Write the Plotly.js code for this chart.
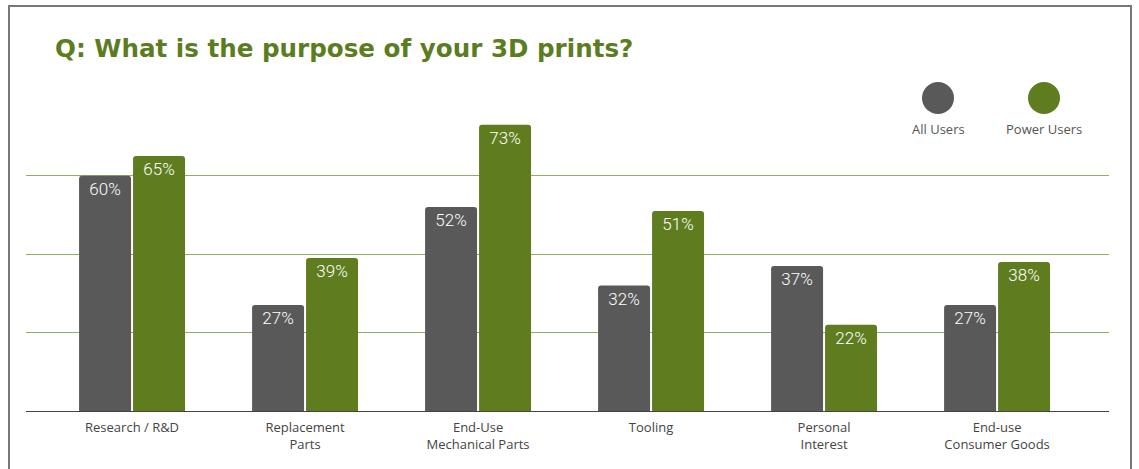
<!DOCTYPE html>
<html>
<head>
<meta charset="utf-8">
<script src="https://cdn.plot.ly/plotly-3.0.1.min.js"></script>
<style>html,body{margin:0;padding:0;background:#fff;}#chart{width:1139px;height:469px;}</style>
</head>
<body>
<div id="chart"></div>
<script>
const categories = ["Research / R&D", "Replacement<br>Parts", "End-Use<br>Mechanical Parts", "Tooling", "Personal<br>Interest", "End-use<br>Consumer Goods"];
const allUsers = [60, 27, 52, 32, 37, 27];
const powerUsers = [65, 39, 73, 51, 22, 38];
const seriesNames = ["All Users", "Power Users"];
const colors = ["#595959", "#5f7d1f"];
const yTicks = [0, 20, 40, 60];

const pct = v => v.map(x => x + "%");
const idx = categories.map((c, i) => i);

const traces = [allUsers, powerUsers].map((vals, k) => ({
  type: "bar",
  x: idx,
  y: vals,
  name: seriesNames[k],
  marker: {color: colors[k], line: {width: 0}},
  text: pct(vals),
  textposition: "inside",
  insidetextanchor: "end",
  constraintext: "none",
  textfont: {family: "Roboto", weight: 300, size: 17, color: "#ffffff"},
  hoverinfo: "skip",
  showlegend: false
}));

const legendShapes = [], legendAnns = [];
const legendX = [938, 1044];
seriesNames.forEach((n, k) => {
  const cx = (legendX[k] - 26) / 1083;
  legendShapes.push({type: "circle", xref: "paper", yref: "paper",
    x0: cx - 16/1083, x1: cx + 16/1083, y0: (411-114)/331, y1: (411-82)/331,
    fillcolor: colors[k], line: {width: 0}});
  legendAnns.push({xref: "paper", yref: "paper", x: cx, y: (411-129)/331, text: n,
    showarrow: false, xanchor: "center", yanchor: "middle",
    font: {family: "Open Sans", size: 13, color: "#555"}});
});

const layout = {
  width: 1139, height: 469,
  margin: {l: 26, r: 30, t: 80, b: 58},
  paper_bgcolor: "#fff", plot_bgcolor: "#fff",
  barmode: "group",
  bargap: 0.376,
  bargroupgap: 0.037,
  barcornerradius: 3,
  title: {text: "<b>Q: What is the purpose of your 3D prints?</b>", x: 55/1139, xanchor: "left", y: 1 - 48/469, yanchor: "middle",
    font: {family: "DejaVu Sans", size: 24.6, color: "#5b7d1f"}},
  xaxis: {tickmode: "array", tickvals: idx, ticktext: categories, range: [-0.613, 5.647],
    showline: true, linecolor: "#444", linewidth: 1, ticks: "", showgrid: false, zeroline: false,
    ticklabelstandoff: 4,
    tickfont: {family: "Open Sans", size: 13, color: "#444"}},
  yaxis: {range: [0, 84.4], tickvals: yTicks, showticklabels: false, showgrid: true,
    gridcolor: "#8fb060", gridwidth: 1, zeroline: false, fixedrange: true},
  shapes: [
    {type: "rect", xref: "paper", yref: "paper", x0: (9-26)/1083, x1: (1131-26)/1083, y0: (411-480)/331, y1: (411-6)/331,
      line: {color: "#777", width: 2}, fillcolor: "rgba(0,0,0,0)", layer: "below"}
  ].concat(legendShapes),
  annotations: legendAnns,
  showlegend: false
};

Plotly.newPlot("chart", traces, layout, {displayModeBar: false, staticPlot: true});
</script>
</body>
</html>
